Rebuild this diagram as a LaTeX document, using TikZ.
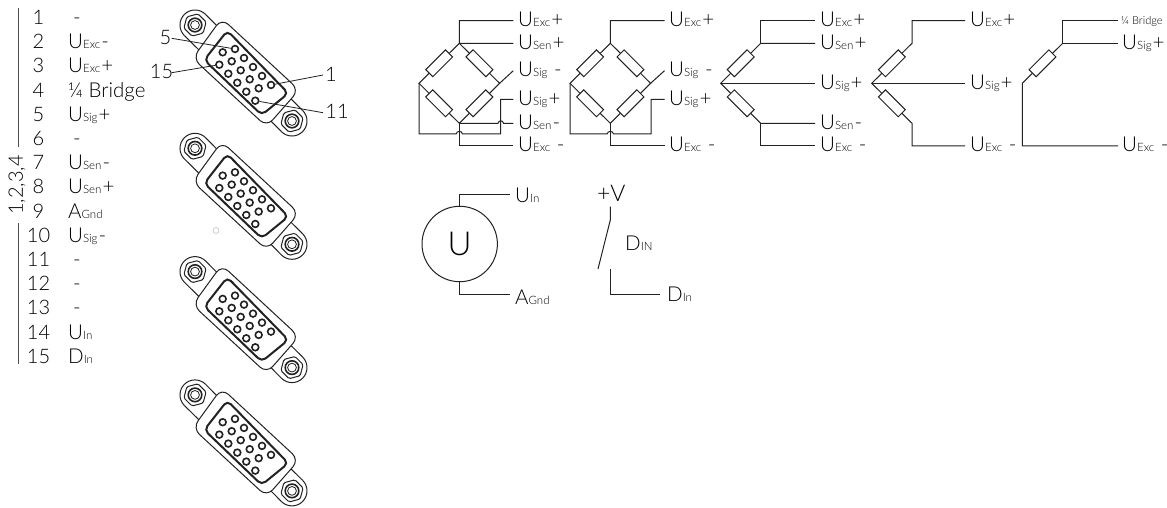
\documentclass[tikz,border=0pt]{standalone}
\usepackage{fontspec}
\setmainfont{Lato}[UprightFont=* Light]
\usetikzlibrary{shapes.geometric,calc}
\definecolor{ink}{HTML}{222222}
\newcommand\bigf{\fontsize{20.5}{20.5}\selectfont}
\newcommand\subf{\fontsize{11.5}{11.5}\selectfont}
\newcommand\Sg[3]{{\bigf #1{\subf #2}\hspace{1pt}#3}}
\tikzset{
 wire/.style={draw=ink,line width=1pt,line join=miter},
 res/.style={draw=ink,line width=1pt,fill=white,rectangle,minimum width=28pt,minimum height=10pt,inner sep=0pt},
 lab/.style={anchor=base west,inner sep=0pt,text=black,font=\bigf},
 num/.style={anchor=base,inner sep=0pt,text=black,font=\fontsize{20}{20}\selectfont},
 pin/.style={circle,draw=ink,line width=1.6pt,fill=white,minimum size=6.8pt,inner sep=0pt},
 body/.style={draw=ink,line width=1pt,fill=white,rounded corners=9pt},
 win/.style={draw=ink,line width=2pt,fill=white,rounded corners=5pt},
 leader/.style={draw=ink,line width=0.8pt},
}
\newcommand\Conn[2]{% #1 name, #2 dy
 \begin{scope}[yshift=-#2pt]
  \path[wire] (184.4,35.6) -- (200,51) (205.6,14.4) -- (220,29);
  \draw[wire] (205.6,14.4) arc[start angle=-45,end angle=-225,radius=15];
  \path[wire] (281.4,131.6) -- (266,116) (302.6,110.4) -- (288,96);
  \draw[wire] (302.6,110.4) arc[start angle=-45,end angle=135,radius=15];
  \path[body] (221.7,18.3) -- (299,90) -- (266.7,126.7) -- (192.7,58.3) -- cycle;
  \path[win] (227.3,30.7) -- (288.3,93.3) -- (261.7,115) -- (204.3,60) -- cycle;
  \foreach \c/\cy in {195/25,292/121}{
   \node[regular polygon,regular polygon sides=6,minimum size=23pt,inner sep=0pt,draw=ink,line width=1pt,rounded corners=1.5pt,fill=white,rotate=15] at (\c,\cy) {};
   \draw[ink,line width=1.6pt] (\c,\cy) circle[radius=6.8];
   \draw[ink,line width=0.8pt] (\c,\cy) circle[radius=4.4];
  }
  \foreach \i in {0,...,4}{
   \pgfmathsetmacro\na{int(5-\i)}
   \pgfmathsetmacro\nb{int(10-\i)}
   \pgfmathsetmacro\nc{int(15-\i)}
   \node[pin] (#1p\na) at ({235+9*\i},{49+9*\i}) {};
   \node[pin] (#1p\nb) at ({222.7+9*\i},{52.3+9*\i}) {};
   \node[pin] (#1p\nc) at ({219.3+9*\i},{64.7+9*\i}) {};
  }
 \end{scope}
}
\newcommand\Br[2]{% #1 name, #2 centre x : four-arm bridge corners + resistors
 \coordinate (#1T) at (#2,43.3);
 \coordinate (#1L) at ({#2-40.3},83.3);
 \coordinate (#1R) at ({#2+40.3},83.3);
 \coordinate (#1B) at (#2,123.3);
 \path[wire] (#1T) -- (#1L) -- (#1B) -- (#1R) -- cycle;
 \node[res,rotate=45] (#1a) at ($(#1T)!0.5!(#1L)$) {};
 \node[res,rotate=-45] (#1b) at ($(#1T)!0.5!(#1R)$) {};
 \node[res,rotate=-45] (#1c) at ($(#1L)!0.5!(#1B)$) {};
 \node[res,rotate=45] (#1d) at ($(#1R)!0.5!(#1B)$) {};
}
\begin{document}
\begin{tikzpicture}[x=1pt,y=-1pt]
\fill[white] (0,0) rectangle (1167,508);
\useasboundingbox (0,0) rectangle (1167,508);
% pin table
\foreach \n/\yy in {1/24.5,2/48.7,3/72.9,4/97.1,5/121.3,6/145.5,7/169.7,8/193.9,9/218.1,10/242.3,11/266.5,12/290.7,13/314.9,14/339.1,15/363.3}{
 \node[num] (n\n) at (38.5,\yy) {\n};
}
\node[lab] (t1) at (73,24.5) {-};
\node[lab] (t2) at (68,48.7) {\Sg{U}{Exc}{-}};
\node[lab] (t3) at (68,72.9) {\Sg{U}{Exc}{+}};
\node[lab] (t4) at (68,97.1) {¼ Bridge};
\node[lab] (t5) at (68,121.3) {\Sg{U}{Sig}{+}};
\node[lab] (t6) at (73,145.5) {-};
\node[lab] (t7) at (68,169.7) {\Sg{U}{Sen}{-}};
\node[lab] (t8) at (68,193.9) {\Sg{U}{Sen}{+}};
\node[lab] (t9) at (68,218.1) {\Sg{A}{Gnd}{}};
\node[lab] (t10) at (68,242.3) {\Sg{U}{Sig}{-}};
\node[lab] (t11) at (73,266.5) {-};
\node[lab] (t12) at (73,290.7) {-};
\node[lab] (t13) at (73,314.9) {-};
\node[lab] (t14) at (68,339.1) {\Sg{U}{In}{}};
\node[lab] (t15) at (68,363.3) {\Sg{D}{In}{}};
\coordinate (g1a) at (18,8); \coordinate (g1b) at (18,147);
\coordinate (g2a) at (18,223); \coordinate (g2b) at (18,364);
\draw[draw=ink!80,line width=1pt] (g1a) -- (g1b) (g2a) -- (g2b);
\node[num,anchor=center,rotate=90] (grp) at (17,185) {1,2,3,4};
% connectors
\Conn{d}{369.9}
\Conn{c}{246.6}
\Conn{b}{123.3}
\Conn{a}{0}
\node[circle,draw=black!20,line width=0.8pt,minimum size=6pt,inner sep=0pt] (spot) at (216,230.5) {};
\node[num] (c5) at (165.5,44.5) {5};
\node[num] (c15) at (161.5,78.5) {15};
\node[num] (c1) at (331,81.5) {1};
\node[num] (c11) at (337,118.5) {11};
\draw[leader] (171.7,38.3) -- (ap5);
\draw[leader] (171.7,72.7) -- (ap15);
\draw[leader] (323,75) -- (ap1);
\draw[leader] (323,112.7) -- (ap11);
% bridge 1
\Br{A}{459.3}
\coordinate (A1) at (513.3,20.7);\coordinate (A2) at (513.3,43.3);\coordinate (A3) at (513.3,70.7);
\coordinate (A4) at (513.3,99.3);\coordinate (A5) at (513.3,123.3);\coordinate (A6) at (513.3,146);
\path[wire] (AT) -- (459.3,20.7) -- (A1) (AT) -- (A2) (AR) -- (A3);
\path[wire] (AB) -- (459.3,146) -- (A6);
\path[wire] (A4) -- (500.7,99.3) -- (500.7,134) -- (462.5,134) .. controls (462,130.5) and (456.6,130.5) .. (456.1,134) -- (419,134) -- (AL);
\path[wire] (AB) -- (498,123.3) .. controls (498.5,120) and (503,120) .. (503.5,123.3) -- (A5);
\node[lab] (A1t) at (518,26.7) {\Sg{U}{Exc}{+}};
\node[lab] (A2t) at (518,49.3) {\Sg{U}{Sen}{+}};
\node[lab] (A3t) at (518,76.7) {\Sg{U}{Sig}{ -}};
\node[lab] (A4t) at (518,105.3) {\Sg{U}{Sig}{+}};
\node[lab] (A5t) at (518,129.3) {\Sg{U}{Sen}{-}};
\node[lab] (A6t) at (518,152) {\Sg{U}{Exc}{ -}};
% bridge 2
\Br{B}{610.3}
\coordinate (B1) at (664.5,20.7);\coordinate (B3) at (664.5,70.7);
\coordinate (B4) at (664.5,99.3);\coordinate (B6) at (664.5,146);
\path[wire] (BT) -- (610.3,20.7) -- (B1) (BR) -- (B3);
\path[wire] (BB) -- (610.3,146) -- (B6);
\path[wire] (B4) -- (651,99.3) -- (651,134) -- (613.5,134) .. controls (613,130.5) and (607.6,130.5) .. (607.1,134) -- (570,134) -- (BL);
\node[lab] (B1t) at (669,26.7) {\Sg{U}{Exc}{+}};
\node[lab] (B3t) at (669,76.7) {\Sg{U}{Sig}{ -}};
\node[lab] (B4t) at (669,105.3) {\Sg{U}{Sig}{+}};
\node[lab] (B6t) at (669,152) {\Sg{U}{Exc}{ -}};
% half bridge 3
\coordinate (CT) at (760.7,43.3);\coordinate (CL) at (720.7,83.3);\coordinate (CB) at (760.7,123.3);
\coordinate (C1) at (815,20.7);\coordinate (C2) at (815,43.3);\coordinate (C3) at (815,83.3);\coordinate (C5) at (815,123.3);\coordinate (C6) at (815,146);
\path[wire] (C2) -- (CT) -- (CL) -- (CB) -- (C5);
\path[wire] (C1) -- (760.7,20.7) -- (CT);
\path[wire] (CB) -- (760.7,146) -- (C6);
\path[wire] (CL) -- (C3);
\node[res,rotate=45] (Ca) at ($(CT)!0.5!(CL)$) {};
\node[res,rotate=-45] (Cc) at ($(CL)!0.5!(CB)$) {};
\node[lab] (C1t) at (820,26.7) {\Sg{U}{Exc}{+}};
\node[lab] (C2t) at (820,49.3) {\Sg{U}{Sen}{+}};
\node[lab] (C3t) at (820,89.3) {\Sg{U}{Sig}{+}};
\node[lab] (C5t) at (820,129.3) {\Sg{U}{Sen}{-}};
\node[lab] (C6t) at (820,152) {\Sg{U}{Exc}{ -}};
% half bridge 4
\coordinate (DT) at (912,43.3);\coordinate (DL) at (871.7,83.3);\coordinate (DB) at (912,123.3);
\coordinate (D1) at (965,20.7);\coordinate (D3) at (965,83.3);\coordinate (D6) at (965,146);
\path[wire] (D1) -- (912,20.7) -- (DT) -- (DL) -- (DB) -- (912,146) -- (D6);
\path[wire] (DL) -- (D3);
\node[res,rotate=45] (Da) at ($(DT)!0.5!(DL)$) {};
\node[res,rotate=-45] (Dc) at ($(DL)!0.5!(DB)$) {};
\node[lab] (D1t) at (970,26.7) {\Sg{U}{Exc}{+}};
\node[lab] (D3t) at (970,89.3) {\Sg{U}{Sig}{+}};
\node[lab] (D6t) at (970,152) {\Sg{U}{Exc}{ -}};
% quarter bridge
\coordinate (ET) at (1062.7,43.3);\coordinate (EL) at (1022.3,83.3);
\coordinate (E1) at (1118,20.7);\coordinate (E2) at (1118,43.3);\coordinate (E6) at (1118,146);
\path[wire] (E1) -- (1062.7,20.7) -- (ET) -- (E2);
\path[wire] (ET) -- (EL) -- (1022.3,146) -- (E6);
\node[res,rotate=45] (Ea) at ($(ET)!0.5!(EL)$) {};
\node[anchor=base west,inner sep=0pt,text=black,font=\fontsize{11}{11}\selectfont] (E1t) at (1121,24.5) {¼ Bridge};
\node[lab] (E2t) at (1122,49.3) {\Sg{U}{Sig}{+}};
\node[lab] (E6t) at (1122,152) {\Sg{U}{Exc}{ -}};
% voltage input
\node[circle,draw=ink,line width=1pt,minimum size=75.4pt,inner sep=0pt,text=black,font=\fontsize{33}{33}\selectfont] (U) at (459.7,244) {U};
\coordinate (Ua) at (510,194);\coordinate (Ub) at (510,294.7);
\path[wire] (U.north) -- (459.7,194) -- (Ua);
\path[wire] (U.south) -- (459.7,294.7) -- (Ub);
\node[lab] (Uat) at (515,202.7) {\Sg{U}{In}{}};
\node[lab] (Ubt) at (515,304) {\Sg{A}{Gnd}{}};
% digital input
\node[anchor=base,inner sep=0pt,text=black,font=\fontsize{23}{23}\selectfont] (V) at (611.3,201.7) {+V};
\coordinate (S1) at (610.3,206.7);\coordinate (S2) at (610.3,220);\coordinate (S3) at (598,269);
\coordinate (S4) at (610.3,269.3);\coordinate (S5) at (610.3,294.7);\coordinate (S6) at (660,294.7);
\path[wire] (S1) -- (S2) -- (S3);
\path[wire] (S4) -- (S5) -- (S6);
\node[lab] (DI) at (625,250) {\Sg{D}{IN}{}};
\node[lab] (Dn) at (667,301.7) {\Sg{D}{In}{}};
\end{tikzpicture}
\end{document}
